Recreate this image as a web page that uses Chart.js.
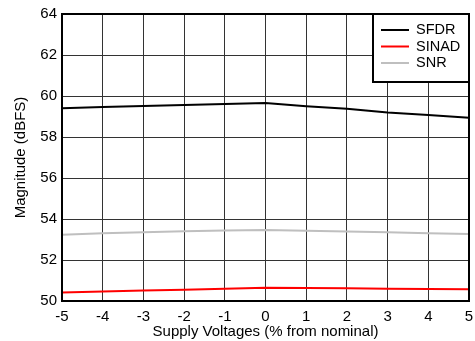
<!DOCTYPE html>
<html>
<head>
<meta charset="utf-8">
<script src="https://cdn.jsdelivr.net/npm/chart.js@4/dist/chart.umd.min.js"></script>
<style>
  html, body { margin: 0; padding: 0; background: #fff; }
  #wrap { width: 475px; height: 341px; position: relative; }
</style>
</head>
<body>
<div id="wrap"><canvas id="chart"></canvas></div>
<script>
// Supply voltage deviation (% from nominal)
const supplyPct = [-5, -4, -3, -2, -1, 0, 1, 2, 3, 4, 5];
const sfdr  = [59.40, 59.46, 59.51, 59.56, 59.61, 59.66, 59.50, 59.38, 59.20, 59.07, 58.94];
const sinad = [50.41, 50.46, 50.51, 50.55, 50.60, 50.65, 50.63, 50.62, 50.60, 50.58, 50.57];
const snr   = [53.23, 53.30, 53.35, 53.40, 53.44, 53.46, 53.43, 53.39, 53.35, 53.30, 53.27];
const yTicks = [50, 52, 54, 56, 58, 60, 62, 64];

const FONT = '"Liberation Sans", Arial, sans-serif';
const toPoints = (vals) => vals.map((v, i) => ({ x: supplyPct[i], y: v }));

// frame + legend drawn inside the plot area, like the original
const frameLegend = {
  id: 'frameLegend',
  afterDatasetsDraw(chart) {
    const ctx = chart.ctx;
    const a = chart.chartArea;
    ctx.save();
    // legend box top right
    const bw = 96, bh = 68;
    const bx = a.right - bw, by = a.top;
    ctx.fillStyle = '#fff';
    ctx.fillRect(bx, by, bw, bh);
    ctx.strokeStyle = '#000';
    ctx.lineWidth = 2;
    ctx.strokeRect(bx, by, bw, bh);
    ctx.font = '14.5px ' + FONT;
    ctx.textBaseline = 'middle';
    chart.data.datasets.forEach(function(ds, i) {
      const y = by + 16 + i * 16.5;
      ctx.strokeStyle = ds.borderColor;
      ctx.lineWidth = 2;
      ctx.beginPath();
      ctx.moveTo(bx + 8, y);
      ctx.lineTo(bx + 36, y);
      ctx.stroke();
      ctx.fillStyle = '#000';
      ctx.fillText(ds.label, bx + 43, y);
    });
    // plot frame
    ctx.strokeStyle = '#000';
    ctx.lineWidth = 2;
    ctx.strokeRect(a.left, a.top, a.right - a.left, a.bottom - a.top);
    ctx.restore();
  }
};

const config = {
  type: 'line',
  data: {
    datasets: [
      { label: 'SFDR',  data: toPoints(sfdr),  borderColor: '#000000' },
      { label: 'SINAD', data: toPoints(sinad), borderColor: '#ff0000' },
      { label: 'SNR',   data: toPoints(snr),   borderColor: '#bfbfbf' }
    ]
  },
  options: {
    responsive: true,
    maintainAspectRatio: false,
    animation: false,
    layout: { padding: { left: 0, top: 14, right: 6, bottom: 0 } },
    elements: {
      line: { borderWidth: 2, tension: 0 },
      point: { radius: 0 }
    },
    plugins: {
      legend: { display: false },
      tooltip: { enabled: false }
    },
    scales: {
      x: {
        type: 'linear',
        min: -5,
        max: 5,
        afterBuildTicks: (axis) => { axis.ticks = supplyPct.map(v => ({ value: v })); },
        afterFit: (axis) => {
          axis.height = 40;
          axis.paddingLeft = 0;
          axis.paddingRight = 0;
        },
        grid: { color: '#333', lineWidth: 1, drawTicks: false },
        border: { display: false },
        ticks: {
          color: '#000',
          padding: 7,
          maxRotation: 0,
          font: { family: FONT, size: 15 }
        },
        title: {
          display: true,
          text: 'Supply Voltages (% from nominal)',
          color: '#000',
          padding: { top: 0, bottom: 0 },
          font: { family: FONT, size: 15 }
        }
      },
      y: {
        min: 50,
        max: 64,
        afterBuildTicks: (axis) => { axis.ticks = yTicks.map(v => ({ value: v })); },
        afterFit: (axis) => {
          axis.width = 62;
          axis.paddingTop = 0;
          axis.paddingBottom = 0;
        },
        grid: { color: '#333', lineWidth: 1, drawTicks: false },
        border: { display: false },
        ticks: {
          color: '#000',
          padding: 5,
          font: { family: FONT, size: 15 }
        },
        title: {
          display: true,
          text: 'Magnitude (dBFS)',
          color: '#000',
          padding: { top: 12, bottom: 0 },
          font: { family: FONT, size: 15 }
        }
      }
    }
  },
  plugins: [frameLegend]
};

document.addEventListener('DOMContentLoaded', function() {
  new Chart(document.getElementById('chart'), config);
});
</script>
</body>
</html>
